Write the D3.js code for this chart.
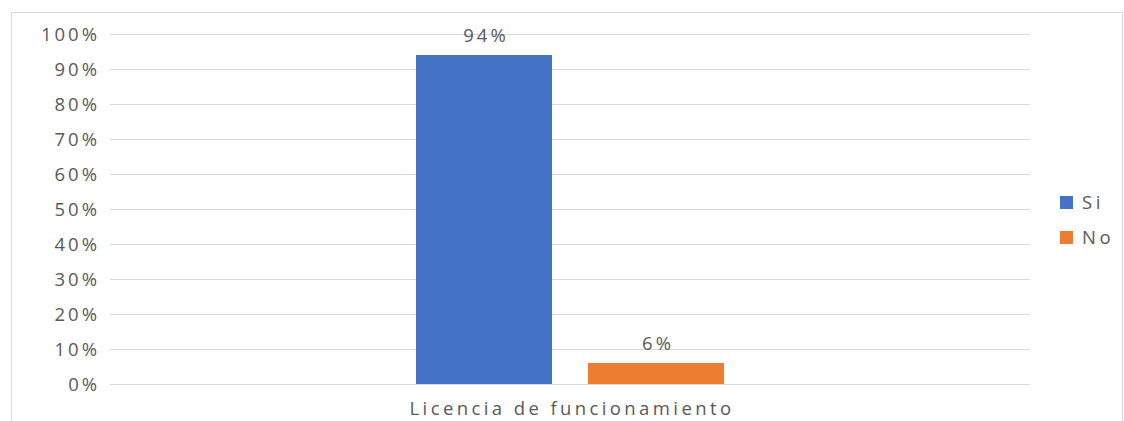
<!DOCTYPE html>
<html>
<head>
<meta charset="utf-8">
<script src="https://cdn.jsdelivr.net/npm/d3@7"></script>
<style>
  body { margin: 0; background: #fff; }
  svg text { font-family: "Open Sans", "Liberation Sans", sans-serif; fill: #595959; }
</style>
</head>
<body>
<svg id="chart" width="1124" height="421"></svg>
<script>
const categories = ['Licencia de funcionamiento'];
const seriesNames = ['Si', 'No'];
const seriesValues = [0.94, 0.06];
const seriesColors = ['#4472c4', '#ed7d31'];
const yTicks = [0, 0.1, 0.2, 0.3, 0.4, 0.5, 0.6, 0.7, 0.8, 0.9, 1.0];

const margin = { top: 34, left: 110, right: 94, bottom: 37 };
const width = 1124;
const height = 421;

const svg = d3.select('#chart');

// chart frame
svg.append('rect')
    .attr('x', 11.5).attr('y', 12.5)
    .attr('width', 1111).attr('height', 420)
    .attr('fill', 'none')
    .attr('stroke', '#d9d9d9');

const y = d3.scaleLinear()
    .domain([0, 1])
    .range([height - margin.bottom, margin.top]);

const x0 = d3.scaleBand()
    .domain(categories)
    .range([margin.left, width - margin.right]);

const x1 = d3.scaleBand()
    .domain(seriesNames)
    .range([0, 308])
    .paddingInner(36 / 172);

// gridlines
const yAxis = svg.append('g')
    .attr('transform', `translate(${ margin.left },0)`)
    .call(d3.axisLeft(y)
        .tickValues(yTicks)
        .tickSize(-(width - margin.left - margin.right))
        .tickPadding(10)
        .tickFormat(d3.format('.0%')));
yAxis.select('.domain').remove();
yAxis.selectAll('.tick line')
    .attr('stroke', '#d9d9d9')
    .attr('stroke-width', 1.2);
yAxis.selectAll('.tick text')
    .attr('font-size', 18.5)
    .attr('letter-spacing', 3)
    .attr('dy', '0.35em');

// bars
const group = svg.append('g')
    .selectAll('g')
    .data(categories)
    .join('g')
    .attr('transform', d => `translate(${ x0(d) + x0.bandwidth() / 2 - 154 },0)`);

const bars = group.selectAll('g')
    .data(() => seriesNames.map((name, i) => ({ name, value: seriesValues[i], color: seriesColors[i] })))
    .join('g');

bars.append('rect')
    .attr('x', d => x1(d.name))
    .attr('y', d => y(d.value))
    .attr('width', x1.bandwidth())
    .attr('height', d => y(0) - y(d.value))
    .attr('fill', d => d.color);

bars.append('text')
    .attr('x', d => x1(d.name) + x1.bandwidth() / 2 + 2)
    .attr('y', d => y(d.value) - 13)
    .attr('text-anchor', 'middle')
    .attr('font-size', 18.5)
    .attr('letter-spacing', 3)
    .text(d => d3.format('.0%')(d.value));

// category label
svg.append('g')
    .selectAll('text')
    .data(categories)
    .join('text')
    .attr('x', d => x0(d) + x0.bandwidth() / 2 + 2)
    .attr('y', height - 6)
    .attr('text-anchor', 'middle')
    .attr('font-size', 18.5)
    .attr('letter-spacing', 3.4)
    .text(d => d);

// legend
const legend = svg.append('g')
    .selectAll('g')
    .data(seriesNames)
    .join('g')
    .attr('transform', (d, i) => `translate(1060,${ 196 + i * 35 })`);
legend.append('rect')
    .attr('width', 13).attr('height', 13)
    .attr('fill', (d, i) => seriesColors[i]);
legend.append('text')
    .attr('x', 22)
    .attr('y', 7)
    .attr('dy', '0.35em')
    .attr('font-size', 18.5)
    .attr('letter-spacing', 3.5)
    .text(d => d);
</script>
</body>
</html>
